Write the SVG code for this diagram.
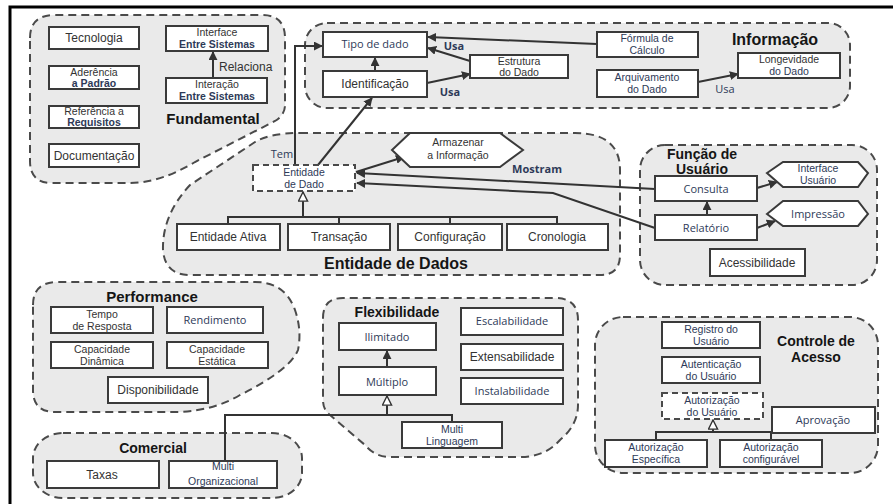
<svg xmlns="http://www.w3.org/2000/svg" width="893" height="504" viewBox="0 0 893 504">
<defs>
<style>
.g{fill:#eaeaea;stroke:#4a4a4a;stroke-width:2;stroke-dasharray:8 5}
.b{fill:#fff;stroke:#3a3a3a;stroke-width:2}
.d{fill:#fff;stroke:#4a4a4a;stroke-width:2;stroke-dasharray:6 4}
.t{font-family:"Liberation Sans",Arial,sans-serif;font-size:12px;fill:#333;text-anchor:middle}
.o{font-family:"Open Sans","Liberation Sans",sans-serif;font-size:11px;fill:#2e3a58;text-anchor:middle}
.s{font-family:"Liberation Sans",Arial,sans-serif;font-size:10.5px;fill:#333;text-anchor:middle}
.sb{font-family:"Liberation Sans",Arial,sans-serif;font-size:10.5px;fill:#2e3a58;text-anchor:middle}
.h{font-family:"Liberation Sans",Arial,sans-serif;font-weight:bold;fill:#151515;text-anchor:middle}
.c{fill:none;stroke:#333;stroke-width:2}
</style>
<marker id="arr" viewBox="0 0 10 10" refX="9" refY="5" markerWidth="9" markerHeight="9" markerUnits="userSpaceOnUse" orient="auto">
<path d="M0,0 L10,5 L0,10 z" fill="#333"/>
</marker>
<marker id="tri" viewBox="0 0 12 12" refX="11" refY="6" markerWidth="11" markerHeight="11" markerUnits="userSpaceOnUse" orient="auto">
<path d="M1,1 L11,6 L1,11 z" fill="#fff" stroke="#333" stroke-width="1.5"/>
</marker>
</defs>
<rect x="0" y="0" width="893" height="504" fill="#fff"/>
<path d="M10,504 V7 H893" fill="none" stroke="#000" stroke-width="3"/>

<g id="grp-fundamental">
<path class="g" d="M30,38 Q30,15 55,15 H262 Q285,15 285,38 V105 Q285,115 275,121 L195,162 Q160,183 130,183 H52 Q30,183 30,161 Z"/>
<text class="h" x="213" y="124" font-size="15">Fundamental</text>
</g>
<g id="grp-informacao">
<rect class="g" x="305" y="23" width="545" height="85" rx="22"/>
<text class="h" x="775" y="45" font-size="16">Informação</text>
</g>
<g id="grp-entidade">
<path class="g" d="M300,133 H575 Q620,133 620,170 V255 Q620,275 600,275 H190 Q165,275 163,250 Q162,215 190,185 L255,142 Q270,133 300,133 Z"/>
<text class="h" x="396" y="269" font-size="16">Entidade de Dados</text>
</g>
<g id="grp-funcao">
<rect class="g" x="640" y="145" width="237" height="140" rx="25"/>
<text class="h" x="702" y="159" font-size="14">Função de</text>
<text class="h" x="702" y="174" font-size="14">Usuário</text>
</g>
<g id="grp-performance">
<path class="g" d="M33,305 Q33,282 58,282 H255 Q285,282 295,310 Q302,330 298,350 Q290,370 240,395 Q215,410 180,412 H55 Q33,412 33,390 Z"/>
<text class="h" x="152" y="302" font-size="15">Performance</text>
</g>
<g id="grp-comercial">
<rect class="g" x="33" y="433" width="269" height="65" rx="30" ry="25"/>
<text class="h" x="153" y="453" font-size="14">Comercial</text>
</g>
<g id="grp-flexibilidade">
<path class="g" d="M323,318 Q323,298 343,298 H555 Q578,298 578,320 V405 Q578,425 560,440 Q545,457 520,457 H390 Q375,457 365,445 L330,415 Q323,410 323,400 Z"/>
<text class="h" x="397" y="317" font-size="14">Flexibilidade</text>
</g>
<g id="grp-controle">
<rect class="g" x="595" y="317" width="283" height="156" rx="28"/>
<text class="h" x="816" y="346" font-size="14">Controle de</text>
<text class="h" x="816" y="362" font-size="14">Acesso</text>
</g>

<g id="connectors">
<line class="c" x1="213" y1="78" x2="213" y2="52" marker-end="url(#arr)"/>
<line class="c" x1="375" y1="71" x2="375" y2="58" marker-end="url(#arr)"/>
<line class="c" x1="597" y1="44" x2="428" y2="37" marker-end="url(#arr)"/>
<line class="c" x1="470" y1="61" x2="428" y2="48" marker-end="url(#arr)"/>
<line class="c" x1="427" y1="83" x2="470" y2="74" marker-end="url(#arr)"/>
<line class="c" x1="698" y1="82" x2="738" y2="74" marker-end="url(#arr)"/>
<path class="c" d="M295,165 V46 H322" marker-end="url(#arr)"/>
<line class="c" x1="318" y1="165" x2="372" y2="98" marker-end="url(#arr)"/>
<line class="c" x1="356" y1="172" x2="404" y2="157" marker-end="url(#arr)"/>
<line class="c" x1="655" y1="189" x2="357" y2="173" marker-end="url(#arr)"/>
<path class="c" d="M655,228 L553,193 L357,183" marker-end="url(#arr)"/>
<line class="c" x1="757" y1="188" x2="777" y2="182" marker-end="url(#arr)"/>
<line class="c" x1="757" y1="228" x2="775" y2="221" marker-end="url(#arr)"/>
<line class="c" x1="707" y1="215" x2="707" y2="202" marker-end="url(#arr)"/>
<path class="c" d="M303,217 V192" marker-end="url(#tri)"/>
<path class="c" d="M228,224 V217 H557 V224 M339,217 V224 M450,217 V224"/>
<line class="c" x1="387" y1="367" x2="387" y2="351" marker-end="url(#arr)"/>
<path class="c" d="M225,460 V415 H452 V422"/>
<path class="c" d="M387,415 V396" marker-end="url(#tri)"/>
<path class="c" d="M713,432 V420" marker-end="url(#tri)"/>
<path class="c" d="M656,440 V432 H771 V440"/>
</g>

<g id="n-tecnologia"><rect class="b" x="49" y="27" width="90" height="22"/><text class="t" x="94" y="42">Tecnologia</text></g>
<g id="n-interface-sistemas"><rect class="b" x="166" y="26" width="102" height="25"/><text class="s" x="217" y="36">Interface</text><text class="sb" x="217" y="48" font-weight="bold">Entre Sistemas</text></g>
<g id="n-aderencia"><rect class="b" x="49" y="66" width="90" height="23"/><text class="s" x="94" y="76">Aderência</text><text class="sb" x="94" y="87" font-weight="bold">a Padrão</text></g>
<g id="n-interacao"><rect class="b" x="166" y="78" width="101" height="25"/><text class="s" x="217" y="88">Interação</text><text class="sb" x="217" y="100" font-weight="bold">Entre Sistemas</text></g>
<text class="t" x="219" y="71" style="text-anchor:start">Relaciona</text>
<g id="n-referencia"><rect class="b" x="49" y="106" width="90" height="22"/><text class="s" x="94" y="115">Referência a</text><text class="sb" x="94" y="126" font-weight="bold">Requisitos</text></g>
<g id="n-documentacao"><rect class="b" x="49" y="144" width="90" height="23"/><text class="t" x="94" y="160">Documentação</text></g>

<g id="n-tipo-dado"><rect class="b" x="323" y="32" width="104" height="25"/><text class="o" x="375" y="48" font-size="12">Tipo de dado</text></g>
<g id="n-identificacao"><rect class="b" x="323" y="71" width="104" height="26"/><text class="t" x="375" y="88">Identificação</text></g>
<g id="n-estrutura"><rect class="b" x="470" y="55" width="98" height="23"/><text class="s" x="519" y="65">Estrutura</text><text class="s" x="519" y="76">do Dado</text></g>
<g id="n-formula"><rect class="b" x="597" y="32" width="101" height="25"/><text class="sb" x="647" y="42">Fórmula de</text><text class="sb" x="647" y="54">Cálculo</text></g>
<g id="n-arquivamento"><rect class="b" x="597" y="70" width="101" height="27"/><text class="sb" x="647" y="81">Arquivamento</text><text class="sb" x="647" y="93">do Dado</text></g>
<g id="n-longevidade"><rect class="b" x="738" y="53" width="102" height="25"/><text class="s" x="789" y="63">Longevidade</text><text class="sb" x="789" y="75">do Dado</text></g>
<text class="o" x="454" y="50" font-weight="bold">Usa</text>
<text class="o" x="450" y="96" font-weight="bold">Usa</text>
<text class="o" x="725" y="93">Usa</text>

<g id="n-entidade-dado"><rect class="d" x="253" y="165" width="102" height="26"/><text class="sb" x="304" y="176" font-size="11">Entidade</text><text class="sb" x="304" y="188" font-size="11">de Dado</text></g>
<text class="o" x="282" y="158">Tem</text>
<g id="n-armazenar"><polygon class="b" points="392,150 410,133 500,133 523,150 500,167 410,167"/><text class="s" x="458" y="146" font-size="11">Armazenar</text><text class="s" x="458" y="159" font-size="11">a Informação</text></g>
<text class="o" x="537" y="173" font-weight="bold">Mostram</text>
<g id="n-entidade-ativa"><rect class="b" x="177" y="224" width="103" height="26"/><text class="t" x="228" y="241">Entidade Ativa</text></g>
<g id="n-transacao"><rect class="b" x="288" y="224" width="102" height="26"/><text class="t" x="339" y="241">Transação</text></g>
<g id="n-configuracao"><rect class="b" x="398" y="224" width="104" height="26"/><text class="t" x="450" y="241">Configuração</text></g>
<g id="n-cronologia"><rect class="b" x="507" y="224" width="101" height="26"/><text class="t" x="557" y="241">Cronologia</text></g>

<g id="n-consulta"><rect class="b" x="655" y="176" width="102" height="25"/><text class="o" x="706" y="193" font-size="12">Consulta</text></g>
<g id="n-relatorio"><rect class="b" x="655" y="215" width="102" height="25"/><text class="o" x="706" y="232" font-size="12">Relatório</text></g>
<g id="n-interface-usuario"><polygon class="b" points="767,173 783,162 858,162 868,173 858,187 783,187"/><text class="sb" x="818" y="172">Interface</text><text class="sb" x="818" y="184">Usuário</text></g>
<g id="n-impressao"><polygon class="b" points="767,214 783,201 858,201 868,214 858,226 783,226"/><text class="o" x="818" y="218" font-size="12">Impressão</text></g>
<g id="n-acessibilidade"><rect class="b" x="710" y="249" width="95" height="27"/><text class="t" x="757" y="267">Acessibilidade</text></g>

<g id="n-tempo"><rect class="b" x="51" y="307" width="102" height="26"/><text class="s" x="102" y="318">Tempo</text><text class="s" x="102" y="330">de Resposta</text></g>
<g id="n-rendimento"><rect class="b" x="167" y="307" width="96" height="26"/><text class="o" x="215" y="324" font-size="12">Rendimento</text></g>
<g id="n-cap-dinamica"><rect class="b" x="51" y="342" width="102" height="26"/><text class="s" x="102" y="353">Capacidade</text><text class="s" x="102" y="365">Dinâmica</text></g>
<g id="n-cap-estatica"><rect class="b" x="167" y="342" width="101" height="26"/><text class="s" x="217" y="353">Capacidade</text><text class="s" x="217" y="365">Estática</text></g>
<g id="n-disponibilidade"><rect class="b" x="108" y="377" width="100" height="26"/><text class="t" x="158" y="394" font-size="11">Disponibilidade</text></g>

<g id="n-taxas"><rect class="b" x="47" y="461" width="112" height="27"/><text class="t" x="102" y="479">Taxas</text></g>
<g id="n-multi-org"><rect class="b" x="169" y="461" width="108" height="27"/><text class="sb" x="223" y="470" font-size="10">Multi</text><text class="sb" x="223" y="485" font-size="13.5">Organizacional</text></g>

<g id="n-ilimitado"><rect class="b" x="339" y="323" width="97" height="27"/><text class="o" x="387" y="341" font-size="12">Ilimitado</text></g>
<g id="n-multiplo"><rect class="b" x="339" y="367" width="97" height="28"/><text class="o" x="387" y="386" font-size="14">Múltiplo</text></g>
<g id="n-escalabilidade"><rect class="b" x="461" y="308" width="102" height="27"/><text class="o" x="512" y="325">Escalabilidade</text></g>
<g id="n-extensabilidade"><rect class="b" x="461" y="344" width="102" height="26"/><text class="t" x="512" y="361">Extensabilidade</text></g>
<g id="n-instalabilidade"><rect class="b" x="461" y="378" width="102" height="26"/><text class="o" x="512" y="395">Instalabilidade</text></g>
<g id="n-multi-linguagem"><rect class="b" x="402" y="422" width="100" height="26"/><text class="sb" x="452" y="433">Multi</text><text class="sb" x="452" y="445">Linguagem</text></g>

<g id="n-registro"><rect class="b" x="662" y="322" width="98" height="26"/><text class="sb" x="711" y="333">Registro do</text><text class="sb" x="711" y="345">Usuário</text></g>
<g id="n-autenticacao"><rect class="b" x="662" y="357" width="98" height="26"/><text class="sb" x="711" y="368">Autenticação</text><text class="sb" x="711" y="380">do Usuário</text></g>
<g id="n-autorizacao-usuario"><rect class="d" x="662" y="393" width="101" height="26"/><text class="sb" x="712" y="404">Autorização</text><text class="sb" x="712" y="416">do Usuário</text></g>
<g id="n-aprovacao"><rect class="b" x="772" y="407" width="103" height="26"/><text class="o" x="823" y="424">Aprovação</text></g>
<g id="n-aut-especifica"><rect class="b" x="605" y="440" width="102" height="27"/><text class="sb" x="656" y="451">Autorização</text><text class="sb" x="656" y="463">Específica</text></g>
<g id="n-aut-configuravel"><rect class="b" x="720" y="440" width="102" height="27"/><text class="sb" x="771" y="451">Autorização</text><text class="sb" x="771" y="463">configurável</text></g>
</svg>
